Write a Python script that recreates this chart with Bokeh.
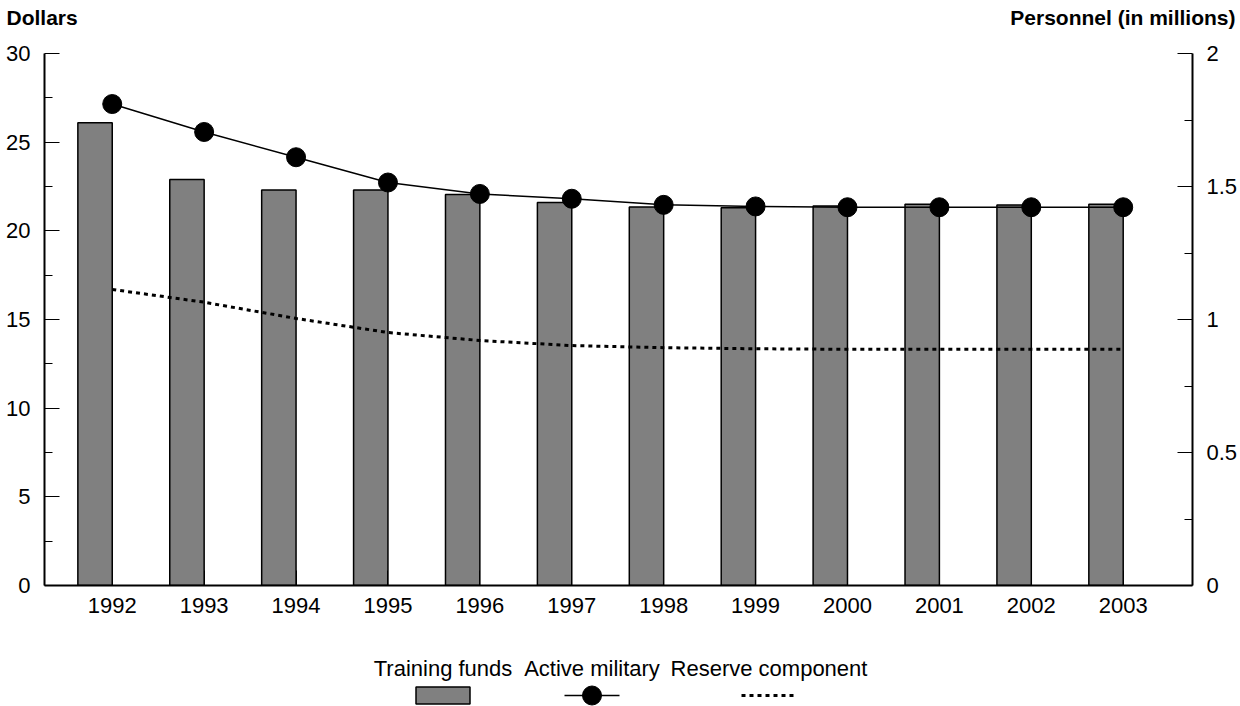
from bokeh.plotting import figure
from bokeh.models import (Range1d, LinearAxis, FixedTicker, NumeralTickFormatter,
                          ColumnDataSource)
from bokeh.layouts import column
from bokeh.transform import dodge
from bokeh.core.properties import value
from bokeh.embed import file_html
from bokeh.resources import INLINE

# ---- data ----
years = [1992, 1993, 1994, 1995, 1996, 1997, 1998, 1999, 2000, 2001, 2002, 2003]
training_funds = [26.1, 22.9, 22.3, 22.3, 22.05, 21.6, 21.35, 21.3, 21.4, 21.5, 21.45, 21.5]
active_military = [1.81, 1.705, 1.61, 1.515, 1.472, 1.454, 1.431, 1.425, 1.422, 1.422, 1.422, 1.422]
reserve_component = [1.113, 1.065, 1.004, 0.951, 0.921, 0.902, 0.894, 0.890, 0.888, 0.888, 0.888, 0.888]
dollar_ticks = [0, 5, 10, 15, 20, 25, 30]
dollar_minor = [2.5, 7.5, 12.5, 17.5, 22.5, 27.5]
pers_ticks = [0, 0.5, 1, 1.5, 2]
pers_minor = [0.25, 0.75, 1.25, 1.75]
legend_labels = ["Training funds", "Active military", "Reserve component"]
left_title = "Dollars"
right_title = "Personnel (in millions)"

FONT = "Liberation Sans"
FS = "22px"
TFS = "21px"
GRAY = "#808080"
W = 1240

src = ColumnDataSource(dict(year=years, funds=training_funds,
                            active=active_military, reserve=reserve_component))

# ---- title strip ----
top = figure(width=W, height=40, output_backend="svg", toolbar_location=None,
             x_range=Range1d(0, W), y_range=Range1d(0, 40), min_border=0,
             x_axis_location=None, y_axis_location=None, frame_align=False)
top.outline_line_color = None
top.grid.visible = False
top.text(x=[6], y=[23], text=[left_title], text_font=value(FONT), text_font_size=value(TFS),
         text_font_style="bold", text_align="left", text_baseline="alphabetic",
         text_color="black")
top.text(x=[1235], y=[23], text=[right_title], text_font=value(FONT),
         text_font_size=value(TFS), text_font_style="bold", text_align="right",
         text_baseline="alphabetic", text_color="black")

# ---- main chart ----
p = figure(width=W, height=600, output_backend="svg", toolbar_location=None,
           x_range=Range1d(1991.263, 2003.754), y_range=Range1d(0, 30),
           min_border_left=44, min_border_right=48, min_border_top=13, min_border_bottom=55,
           x_axis_location=None, y_axis_location=None, frame_align=False)
p.extra_y_ranges = {"pers": Range1d(0, 2)}
p.outline_line_color = None
p.grid.visible = False


def style_axis(ax):
    ax.axis_line_color = "black"
    ax.axis_line_width = 2
    ax.major_tick_line_color = "black"
    ax.major_tick_line_width = 1
    ax.minor_tick_line_color = "black"
    ax.minor_tick_line_width = 1
    ax.major_tick_out = 0
    ax.minor_tick_out = 0
    ax.major_label_text_font = FONT
    ax.major_label_text_font_size = FS
    ax.major_label_text_color = "black"


left = LinearAxis(ticker=FixedTicker(ticks=dollar_ticks, minor_ticks=dollar_minor))
style_axis(left)
left.major_tick_in = 15
left.minor_tick_in = 8
left.major_label_standoff = 14
p.add_layout(left, "left")

right = LinearAxis(y_range_name="pers",
                   ticker=FixedTicker(ticks=pers_ticks, minor_ticks=pers_minor),
                   formatter=NumeralTickFormatter(format="0.[0]"))
style_axis(right)
right.major_tick_in = 15
right.minor_tick_in = 8
right.major_label_standoff = 14
p.add_layout(right, "right")

bottom = LinearAxis(ticker=FixedTicker(ticks=years, minor_ticks=[]),
                    formatter=NumeralTickFormatter(format="0"))
style_axis(bottom)
bottom.major_tick_in = 15
bottom.minor_tick_in = 0
bottom.major_label_standoff = 12
p.add_layout(bottom, "below")

p.vbar(x=dodge("year", -0.187, range=p.x_range), top="funds", width=0.374, bottom=0,
       source=src, fill_color=GRAY, line_color="black", line_width=1.5)
p.line("year", "reserve", source=src, y_range_name="pers", line_color="black",
       line_width=3, line_dash="4 4")
p.line("year", "active", source=src, y_range_name="pers", line_color="black", line_width=1.5)
p.scatter("year", "active", source=src, y_range_name="pers", size=19,
          fill_color="black", line_color="black")

# ---- legend strip ----
leg = figure(width=W, height=66, output_backend="svg", toolbar_location=None,
             x_range=Range1d(0, W), y_range=Range1d(0, 66), min_border=0,
             x_axis_location=None, y_axis_location=None, frame_align=False)
leg.outline_line_color = None
leg.grid.visible = False

centers = [442.5, 591.5, 768.5]
leg.text(x=centers, y=[38, 38, 38], text=legend_labels, text_font=value(FONT),
         text_font_size=value(FS), text_align="center", text_baseline="alphabetic",
         text_color="black")
sym_y = 11
leg.rect(x=[centers[0]], y=[sym_y], width=54, height=17, fill_color=GRAY,
         line_color="black", line_width=1.5)
leg.line(x=[centers[1] - 27.5, centers[1] + 27.5], y=[sym_y, sym_y], line_color="black",
         line_width=1.5)
leg.scatter(x=[centers[1]], y=[sym_y], size=19, fill_color="black", line_color="black")
leg.line(x=[centers[2] - 27.5, centers[2] + 27.5], y=[sym_y, sym_y], line_color="black",
         line_width=3, line_dash="4 4")

layout = column(top, p, leg, spacing=0)
open("out.html", "w").write(file_html(layout, INLINE))
